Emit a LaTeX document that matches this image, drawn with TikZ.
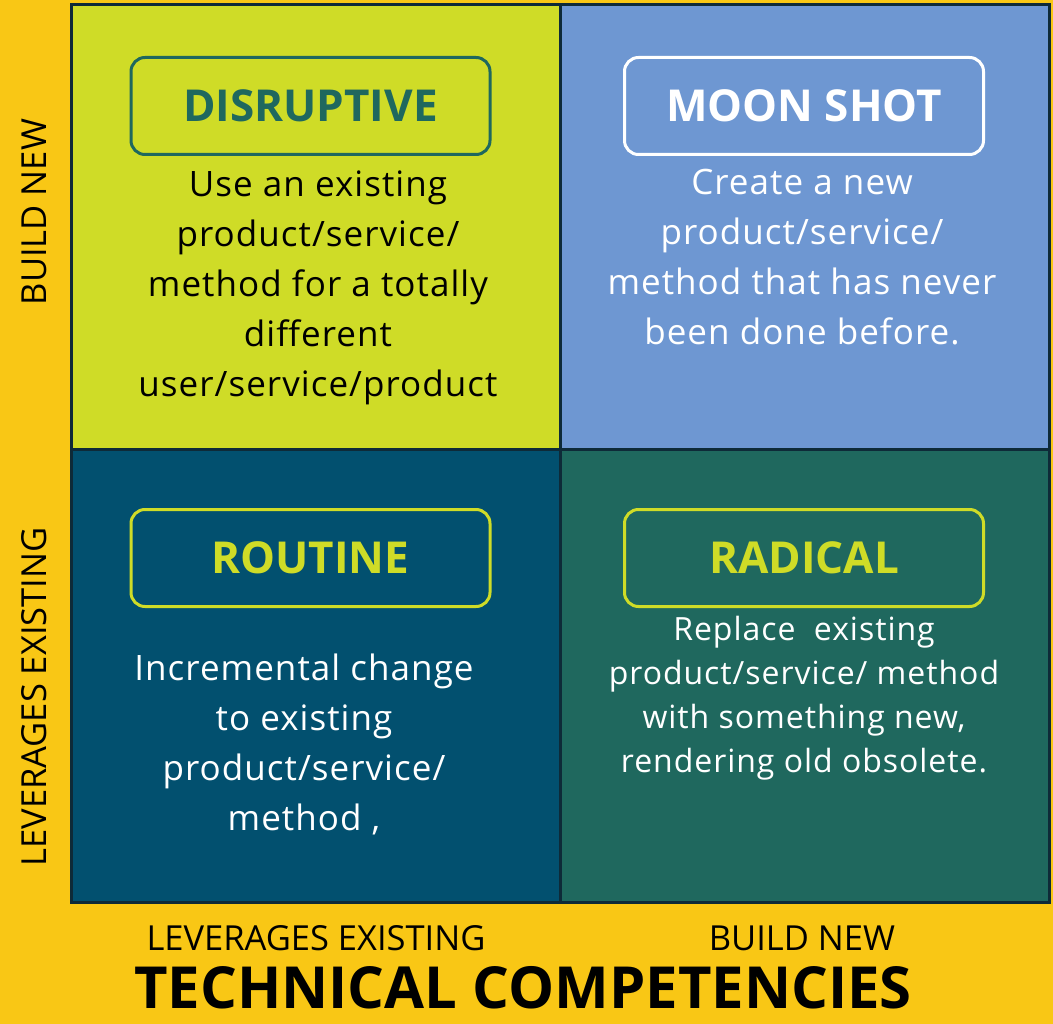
\documentclass[tikz,border=0pt]{standalone}
\usepackage{fontspec}
\setmainfont{Open Sans}
\usepackage{xcolor}
\usetikzlibrary{positioning}

\definecolor{bgyellow}{HTML}{F9C715}
\definecolor{limegreen}{HTML}{CFDC27}
\definecolor{skyblue}{HTML}{6E97D2}
\definecolor{deepblue}{HTML}{02506F}
\definecolor{tealgreen}{HTML}{1F685E}
\definecolor{gridedge}{HTML}{0E2A38}

\tikzset{
  tagbox/.style={draw, rounded corners=14pt, line width=3pt, minimum width=359pt,
    minimum height=97pt, font=\fontsize{44}{50}\selectfont\bfseries},
  desc/.style={align=center, font=\fontsize{35}{50}\selectfont\addfontfeatures{LetterSpace=3}},
  axislabel/.style={font=\fontsize{34.5}{40}\selectfont}
}

\begin{document}
\begin{tikzpicture}[x=1pt, y=-1pt]

  % Define grid parameters
  \def\xl{71}
  \def\xm{560}
  \def\xr{1049}
  \def\yt{5}
  \def\ym{449}
  \def\yb{902}

  % Background
  \fill[bgyellow] (0,0) rectangle (1053,1024);
  \useasboundingbox (0,0) rectangle (1053,1024);

  % Draw the quadrants
  \fill[limegreen] (\xl,\yt) rectangle (\xm,\ym);
  \fill[skyblue] (\xm,\yt) rectangle (\xr,\ym);
  \fill[deepblue] (\xl,\ym) rectangle (\xm,\yb);
  \fill[tealgreen] (\xm,\ym) rectangle (\xr,\yb);
  \draw[gridedge, line width=3pt] (\xl,\yt) rectangle (\xr,\yb);
  \draw[gridedge, line width=3pt] (\xm,\yt) -- (\xm,\yb);
  \draw[gridedge, line width=3pt] (\xl,\ym) -- (\xr,\ym);

  % Quadrant titles
  \node[tagbox, draw=tealgreen, text=tealgreen] (disruptive) at (310.5,106) {DISRUPTIVE};
  \node[tagbox, draw=white, text=white] (moonshot) at (804,106) {MOON SHOT};
  \node[tagbox, draw=limegreen, text=limegreen] (routine) at (310.5,558) {ROUTINE};
  \node[tagbox, draw=limegreen, text=limegreen] (radical) at (804,558) {RADICAL};

  % Quadrant texts
  \node[desc, text=black] (disruptivetext) at (318,288)
    {Use an existing\\product/service/\\method for a totally\\different\\user/service/product};
  \node[desc, text=white] (moonshottext) at (802,257)
    {Create a new\\product/service/\\method that has never\\been done before.};
  \node[desc, text=white] (routinetext) at (304,744)
    {Incremental change\\to existing\\product/service/\\method ,};
  \node[desc, text=white, font=\fontsize{32}{44}\selectfont\addfontfeatures{LetterSpace=3}] (radicaltext) at (804,698)
    {Replace\ \ existing\\product/service/ method\\with something new,\\rendering old obsolete.};

  % Axis labels
  \node[axislabel, rotate=90] (ybuild) at (34,212) {BUILD NEW};
  \node[axislabel, rotate=90] (yleverage) at (34,697) {LEVERAGES EXISTING};
  \node[axislabel] (xleverage) at (316,938) {LEVERAGES EXISTING};
  \node[axislabel] (xbuild) at (802,938) {BUILD NEW};
  \node[font=\fontsize{58}{62}\selectfont\bfseries, anchor=base, inner sep=0pt, text depth=0pt]
    (axistitle) at (523,1008) {TECHNICAL COMPETENCIES};

\end{tikzpicture}
\end{document}
